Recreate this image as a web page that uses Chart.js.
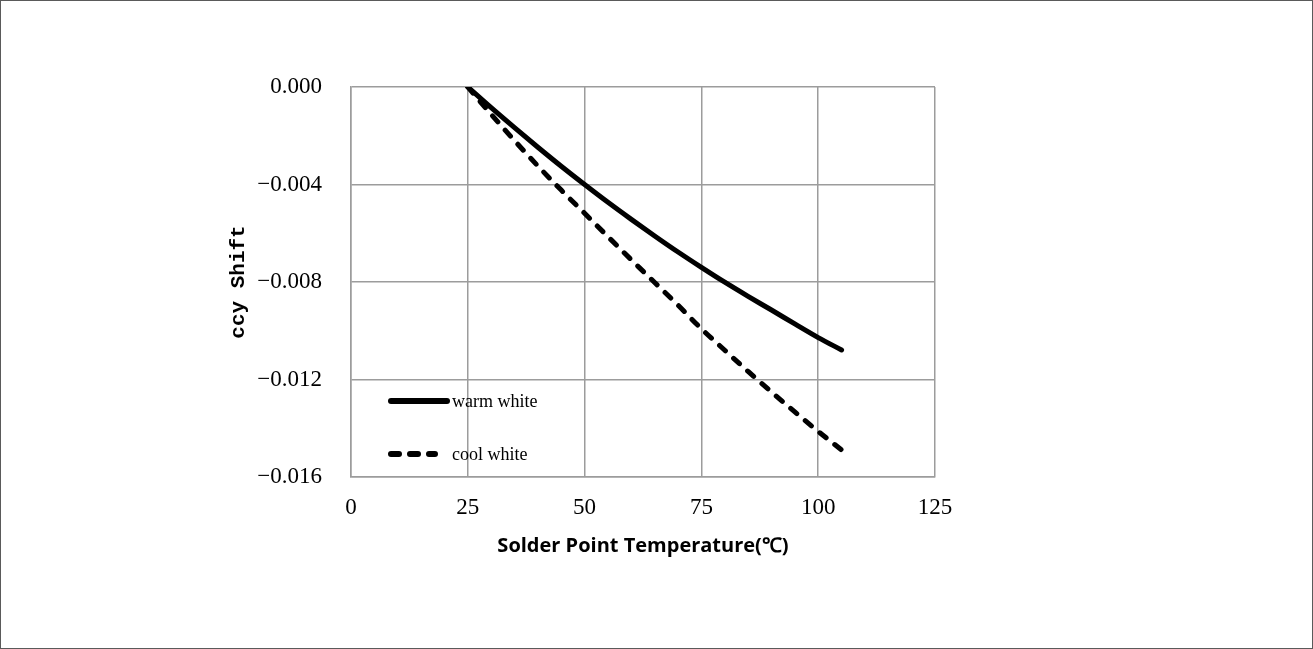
<!DOCTYPE html>
<html>
<head>
<meta charset="utf-8">
<script src="https://cdn.jsdelivr.net/npm/chart.js@4.4.1/dist/chart.umd.min.js"></script>
<style>
  html, body { margin: 0; padding: 0; background: #ffffff; }
  canvas { display: block; }
</style>
</head>
<body>
<canvas id="chart" width="1313" height="649"></canvas>
<script>
// values
const temperatures = [25, 30, 35, 40, 45, 50, 55, 60, 65, 70, 75, 80, 85, 90, 95, 100, 105];
const warmWhite = [0, -0.00085, -0.00167, -0.00247, -0.00325, -0.00400, -0.00473, -0.00543, -0.00611,
                   -0.00677, -0.00740, -0.00801, -0.00859, -0.00915, -0.00972, -0.01028, -0.01079];
const coolWhite = [0, -0.00112, -0.00220, -0.00324, -0.00423, -0.00518, -0.00614, -0.00709, -0.00802,
                   -0.00895, -0.00992, -0.01080, -0.01167, -0.01251, -0.01333, -0.01413, -0.01489];
const seriesNames = ['warm white', 'cool white'];
const xTitle = 'Solder Point Temperature(℃)';
const yTitle = 'ccy Shift';

const serif = '"Liberation Serif", "DejaVu Serif", serif';

function toPoints(values) {
    return temperatures.map((t, i) => ({ x: t, y: values[i] }));
}

// white page with the thin frame round it
const framePlugin = {
    id: 'frame',
    beforeDraw(chart) {
        const ctx = chart.ctx;
        ctx.save();
        ctx.fillStyle = '#ffffff';
        ctx.fillRect(0, 0, chart.width, chart.height);
        ctx.strokeStyle = '#5a5a5a';
        ctx.lineWidth = 1;
        ctx.strokeRect(0.5, 0.5, chart.width - 1, chart.height - 1);
        ctx.restore();
    }
};

// legend sits inside the plot, lower left
const insideLegend = {
    id: 'insideLegend',
    afterDatasetsDraw(chart) {
        const ctx = chart.ctx;
        const area = chart.chartArea;
        const rows = [area.top + 314, area.top + 367];
        chart.data.datasets.forEach((ds, i) => {
            const y = rows[i];
            const x0 = area.left + 40;
            ctx.save();
            ctx.strokeStyle = ds.borderColor;
            ctx.lineWidth = ds.borderWidth + 1;
            ctx.lineCap = 'round';
            ctx.setLineDash(ds.borderDash || []);
            ctx.beginPath();
            ctx.moveTo(x0, y);
            ctx.lineTo(x0 + (ds.borderDash ? 44 : 56), y);
            ctx.stroke();
            ctx.setLineDash([]);
            ctx.fillStyle = '#000000';
            ctx.font = '18px ' + serif;
            ctx.textBaseline = 'middle';
            ctx.textAlign = 'left';
            ctx.fillText(ds.label, area.left + 101, y + 1);
            ctx.restore();
        });
    }
};

new Chart(document.getElementById('chart'), {
    type: 'line',
    data: {
        datasets: [
            {
                label: seriesNames[0],
                data: toPoints(warmWhite),
                borderColor: '#000000',
                borderWidth: 5,
                borderCapStyle: 'round',
                pointRadius: 0,
                cubicInterpolationMode: 'monotone',
                fill: false,
            },
            {
                label: seriesNames[1],
                data: toPoints(coolWhite),
                borderColor: '#000000',
                borderWidth: 5,
                borderDash: [8, 11],
                borderCapStyle: 'round',
                pointRadius: 0,
                cubicInterpolationMode: 'monotone',
                fill: false,
            },
        ]
    },
    options: {
        responsive: false,
        animation: false,
        devicePixelRatio: 1,
        layout: {
            padding: { left: 226, right: 378, top: 87, bottom: 72 }
        },
        plugins: {
            legend: { display: false },
            tooltip: { enabled: false },
        },
        scales: {
            x: {
                type: 'linear',
                min: 0,
                max: 125,
                afterFit: scale => { scale.height = 100; },
                grid: {
                    color: '#9c9c9c',
                    lineWidth: 1.5,
                    drawTicks: false,
                    tickLength: 0,
                },
                border: { color: '#9c9c9c', width: 1.5 },
                ticks: {
                    stepSize: 25,
                    padding: 17,
                    color: '#000000',
                    font: { family: serif, size: 23 },
                    maxRotation: 0,
                },
                title: {
                    display: true,
                    text: xTitle,
                    color: '#000000',
                    font: { family: '"Open Sans", sans-serif', size: 20, weight: 'bold' },
                    padding: { top: 0, bottom: 19 },
                },
            },
            y: {
                type: 'linear',
                min: -0.016,
                max: 0,
                afterFit: scale => { scale.width = 125; },
                grid: {
                    color: '#9c9c9c',
                    lineWidth: 1.5,
                    drawTicks: false,
                    tickLength: 0,
                },
                border: { color: '#9c9c9c', width: 1.5 },
                ticks: {
                    stepSize: 0.004,
                    padding: 29,
                    color: '#000000',
                    font: { family: serif, size: 23 },
                    callback: value => value.toFixed(3).replace('-', '\u2212'),
                },
                title: {
                    display: true,
                    text: yTitle,
                    color: '#000000',
                    font: { family: '"Liberation Mono", "DejaVu Sans Mono", monospace', size: 21, weight: 'bold' },
                    padding: { top: 0, bottom: 0 },
                },
            },
        },
    },
    plugins: [framePlugin, insideLegend],
});
</script>
</body>
</html>
